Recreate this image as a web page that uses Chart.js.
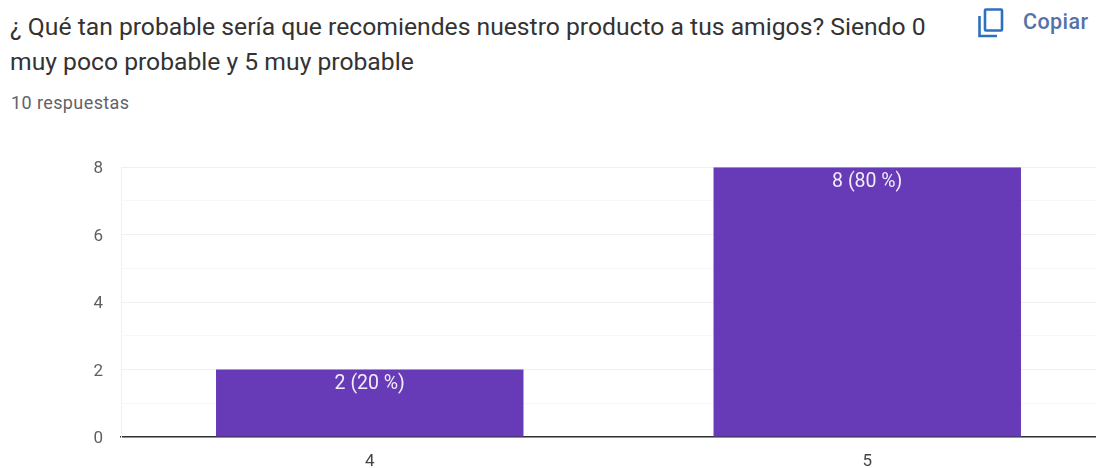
<!DOCTYPE html>
<html>
<head>
<meta charset="utf-8">
<script src="https://cdn.jsdelivr.net/npm/chart.js@4"></script>
<style>
  html, body { margin: 0; padding: 0; background: #fff; overflow: hidden; width: 1096px; height: 468px; }
  body { position: relative; font-family: Roboto, sans-serif; }
  #title { position: absolute; left: 10px; top: 9px; width: 935px; font-size: 24.7px; line-height: 35px; color: #333333; }
  #sub { position: absolute; left: 11px; top: 93px; font-size: 18px; line-height: 20px; color: #5f6368; letter-spacing: .4px; }
  #copy { position: absolute; left: 1023px; top: 9px; font-size: 21.5px; line-height: 26px; color: #5472a8; font-weight: 500; letter-spacing: .4px; }
  #icon { position: absolute; left: 977px; top: 7px; }
  #wrap { position: absolute; left: 0; top: 139px; width: 1116px; height: 329px; }
</style>
</head>
<body>
<div id="title">¿ Qué tan probable sería que recomiendes nuestro producto a tus amigos? Siendo 0 muy poco probable y 5 muy probable</div>
<div id="sub">10 respuestas</div>
<svg id="icon" width="28" height="32" viewBox="0 0 28 32" fill="none" stroke="#2f6fc0" stroke-width="2.6">
  <path d="M2.5 9 V29 H20" />
  <rect x="8" y="2.5" width="17" height="21" rx="1" />
</svg>
<div id="copy">Copiar</div>
<div id="wrap"><canvas id="chart"></canvas></div>
<script>
const categories = ["4", "5"];
const counts = [2, 8];
const barLabels = ["2 (20 %)", "8 (80 %)"];
const yTicks = [0, 2, 4, 6, 8];

// draws the "n (x %)" text just inside the top of each bar
const barLabelPlugin = {
  id: "barLabels",
  afterDatasetsDraw(chart) {
    const ctx = chart.ctx;
    const bars = chart.getDatasetMeta(0).data;
    ctx.save();
    ctx.font = "19.5px Roboto";
    ctx.fillStyle = "#f1ecf8";
    ctx.textAlign = "center";
    ctx.textBaseline = "middle";
    bars.forEach((bar, i) => ctx.fillText(barLabels[i], bar.x, bar.y + 15));
    ctx.restore();
  },
};

new Chart(document.getElementById("chart"), {
  type: "bar",
  data: {
    labels: categories,
    datasets: [
      {
        data: counts,
        backgroundColor: "#673ab7",
        barPercentage: 0.618,
        categoryPercentage: 1,
      },
    ],
  },
  plugins: [barLabelPlugin],
  options: {
    responsive: true,
    maintainAspectRatio: false,
    animation: false,
    layout: { padding: { top: 6, right: 0, bottom: 0, left: 0 } },
    plugins: {
      legend: { display: false },
      tooltip: { enabled: false },
    },
    scales: {
      x: {
        afterFit(scale) { scale.height = 31; },
        grid: { display: false },
        border: { color: "#333333", width: 1.5 },
        ticks: { color: "#444444", font: { family: "Roboto", size: 17 }, padding: 7 },
      },
      y: {
        min: 0,
        max: 8,
        afterFit(scale) { scale.width = 121; },
        border: { color: "#f0f0f0", width: 1 },
        grid: {
          drawTicks: false,
          color: (c) => (yTicks.includes(c.tick.value) ? "#f0f0f0" : "#f8f8f8"),
        },
        ticks: {
          stepSize: 1,
          padding: 18,
          labelOffset: 2,
          color: "#5f5f5f",
          font: { family: "Roboto", size: 17 },
          callback: (v) => (yTicks.includes(v) ? String(v) : ""),
        },
      },
    },
  },
});
</script>
</body>
</html>
